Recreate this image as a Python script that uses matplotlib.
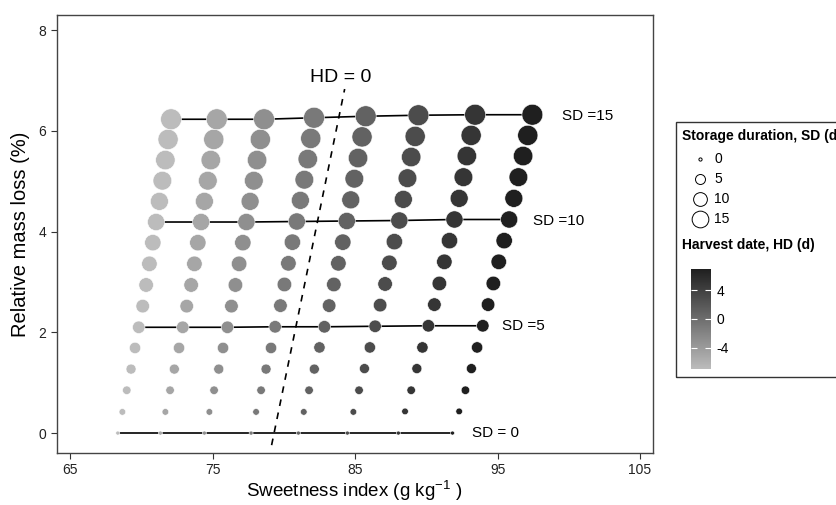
import numpy as np
import matplotlib
matplotlib.use("Agg")
import matplotlib.pyplot as plt
from matplotlib.colors import LinearSegmentedColormap, Normalize
from matplotlib.patches import Rectangle
import matplotlib.colorbar as mcolorbar

plt.rcParams['font.family'] = ['Liberation Sans', 'DejaVu Sans']
plt.rcParams['mathtext.fontset'] = 'custom'
plt.rcParams['mathtext.rm'] = 'Liberation Sans'
plt.rcParams['mathtext.it'] = 'Liberation Sans'
plt.rcParams['axes.unicode_minus'] = False

# storage duration (days) and harvest date (days)
sd_days = list(range(16))
hd_days = [-7, -5, -3, -1, 1, 3, 5, 7]

# sweetness index per harvest date, SD = 0..15
sweet_hdm7 = [68.33, 68.65, 68.96, 69.26, 69.54, 69.80, 70.08, 70.32, 70.55, 70.79, 71.02, 71.25, 71.46, 71.67, 71.86, 72.07]
sweet_hdm5 = [71.32, 71.67, 72.00, 72.30, 72.63, 72.89, 73.17, 73.48, 73.71, 73.95, 74.18, 74.41, 74.65, 74.86, 75.07, 75.28]
sweet_hdm3 = [74.41, 74.76, 75.09, 75.42, 75.72, 76.03, 76.31, 76.59, 76.85, 77.11, 77.36, 77.62, 77.88, 78.11, 78.34, 78.60]
sweet_hdm1 = [77.69, 78.04, 78.39, 78.74, 79.09, 79.38, 79.75, 80.03, 80.31, 80.59, 80.90, 81.15, 81.43, 81.67, 81.88, 82.11]
sweet_hdp1 = [81.01, 81.39, 81.76, 82.13, 82.49, 82.84, 83.17, 83.50, 83.82, 84.13, 84.41, 84.69, 84.94, 85.20, 85.48, 85.74]
sweet_hdp3 = [84.45, 84.87, 85.27, 85.65, 86.03, 86.40, 86.75, 87.10, 87.40, 87.75, 88.10, 88.38, 88.67, 88.93, 89.21, 89.44]
sweet_hdp5 = [88.03, 88.50, 88.93, 89.33, 89.72, 90.14, 90.56, 90.91, 91.26, 91.62, 91.97, 92.30, 92.60, 92.84, 93.14, 93.42]
sweet_hdp7 = [91.83, 92.30, 92.74, 93.16, 93.56, 93.96, 94.33, 94.70, 95.08, 95.46, 95.81, 96.14, 96.46, 96.79, 97.12, 97.44]

# relative mass loss (%) per harvest date, SD = 0..15
mass_hdm7 = [0.00, 0.42, 0.85, 1.27, 1.69, 2.10, 2.52, 2.94, 3.36, 3.78, 4.19, 4.60, 5.01, 5.42, 5.83, 6.23]
mass_hdm5 = [0.00, 0.42, 0.85, 1.27, 1.69, 2.10, 2.52, 2.94, 3.36, 3.78, 4.19, 4.60, 5.01, 5.42, 5.83, 6.23]
mass_hdm3 = [0.00, 0.42, 0.85, 1.27, 1.69, 2.10, 2.52, 2.94, 3.36, 3.78, 4.19, 4.60, 5.01, 5.42, 5.83, 6.23]
mass_hdm1 = [0.00, 0.42, 0.85, 1.27, 1.69, 2.11, 2.53, 2.95, 3.37, 3.79, 4.20, 4.62, 5.03, 5.44, 5.85, 6.26]
mass_hdp1 = [0.00, 0.42, 0.85, 1.27, 1.70, 2.11, 2.53, 2.95, 3.37, 3.79, 4.21, 4.63, 5.05, 5.46, 5.88, 6.29]
mass_hdp3 = [0.00, 0.42, 0.85, 1.28, 1.70, 2.12, 2.54, 2.96, 3.38, 3.80, 4.22, 4.64, 5.06, 5.48, 5.89, 6.31]
mass_hdp5 = [0.00, 0.43, 0.85, 1.28, 1.70, 2.13, 2.55, 2.97, 3.40, 3.82, 4.24, 4.66, 5.08, 5.50, 5.91, 6.32]
mass_hdp7 = [0.00, 0.43, 0.85, 1.28, 1.70, 2.13, 2.55, 2.97, 3.40, 3.82, 4.24, 4.66, 5.08, 5.50, 5.91, 6.32]

sweet = [sweet_hdm7, sweet_hdm5, sweet_hdm3, sweet_hdm1, sweet_hdp1, sweet_hdp3, sweet_hdp5, sweet_hdp7]
mass = [mass_hdm7, mass_hdm5, mass_hdm3, mass_hdm1, mass_hdp1, mass_hdp3, mass_hdp5, mass_hdp7]

# SD contour lines and their labels
sd_lines = [0, 5, 10, 15]
sd_labels = ["SD = 0", "SD =5", "SD =10", "SD =15"]
sd_label_x = [93.19, 95.30, 97.51, 99.50]
sd_label_y = [0.0, 2.12, 4.22, 6.30]

# HD = 0 line
hd0_x = [79.13, 84.26]
hd0_y = [-0.24, 6.83]

legend_sd = [0, 5, 10, 15]

cmap = LinearSegmentedColormap.from_list("hd", ["#bcbcbc", "#1f1f1f"])
norm = Normalize(-7, 7)


def pt_size(sd):
    return 0.5184 * (16 + 28 * np.asarray(sd))


fig = plt.figure(figsize=(8.37, 5.05), dpi=100)
ax = fig.add_axes([56.7 / 837, 1 - 452.7 / 505, 596 / 837, 437.7 / 505])

# SD lines
for sd in sd_lines:
    xs = [col[sd] for col in sweet]
    ys = [col[sd] for col in mass]
    ax.plot(xs, ys, color="black", lw=1.2, zorder=2)

# points
for hd, xs, ys in zip(hd_days, sweet, mass):
    ax.scatter(xs, ys, s=pt_size(sd_days), color=cmap(norm(hd)),
               edgecolors="white", linewidths=0.4, zorder=3)

ax.plot(hd0_x, hd0_y, color="black", lw=1.2, ls=(0, (4, 4)), zorder=4)
ax.text(83.95, 7.06, "HD = 0", fontsize=14, ha="center", va="center")

for lab, lx, ly in zip(sd_labels, sd_label_x, sd_label_y):
    ax.text(lx, ly, lab, fontsize=11, ha="left", va="center")

ax.set_xlim(64.04, 105.89)
ax.set_ylim(-0.39, 8.30)
ax.set_xticks([65, 75, 85, 95, 105])
ax.set_yticks([0, 2, 4, 6, 8])
ax.tick_params(labelsize=10, length=4, color="#333333", labelcolor="#222222")
for sp in ax.spines.values():
    sp.set_color("#444444")
    sp.set_linewidth(1.0)
ax.set_xlabel("Sweetness index (g kg$^{-1}$ )", fontsize=13.5, labelpad=1)
ax.set_ylabel("Relative mass loss (%)", fontsize=14.5, labelpad=6)

# legend box (clipped at figure edge like the original)
fig.patches.append(Rectangle((675.7 / 837, 1 - 377 / 505), 0.3, (377 - 122.3) / 505,
                             transform=fig.transFigure, fill=False,
                             edgecolor="#333333", lw=1.0))
fig.text(681.7 / 837, 1 - 135.7 / 505, "Storage duration, SD (d)",
         fontsize=10, fontweight="bold", va="center", ha="left")
for i, sd in enumerate(legend_sd):
    yy = 1 - (159 + 20 * i) / 505
    fig.lines.append(plt.Line2D([700 / 837], [yy], transform=fig.transFigure,
                                marker="o", ls="none",
                                markersize=np.sqrt(pt_size(sd)) * 0.8,
                                markerfacecolor="white", markeredgecolor="black",
                                markeredgewidth=0.7))
    fig.text(714.5 / 837, yy, str(sd), fontsize=10, va="center", ha="left")

fig.text(681.7 / 837, 1 - 245 / 505, "Harvest date, HD (d)",
         fontsize=10, fontweight="bold", va="center", ha="left")

cax = fig.add_axes([690.7 / 837, 1 - 369 / 505, 20 / 837, 100 / 505])
cb = mcolorbar.ColorbarBase(cax, cmap=cmap, norm=norm, ticks=[-4, 0, 4])
cb.outline.set_visible(False)
cax.tick_params(direction="in", color="white", length=4, width=0.8,
                left=True, right=True, labelleft=False, labelright=True,
                labelsize=10, pad=4)

fig.savefig("out.png", dpi=100)
